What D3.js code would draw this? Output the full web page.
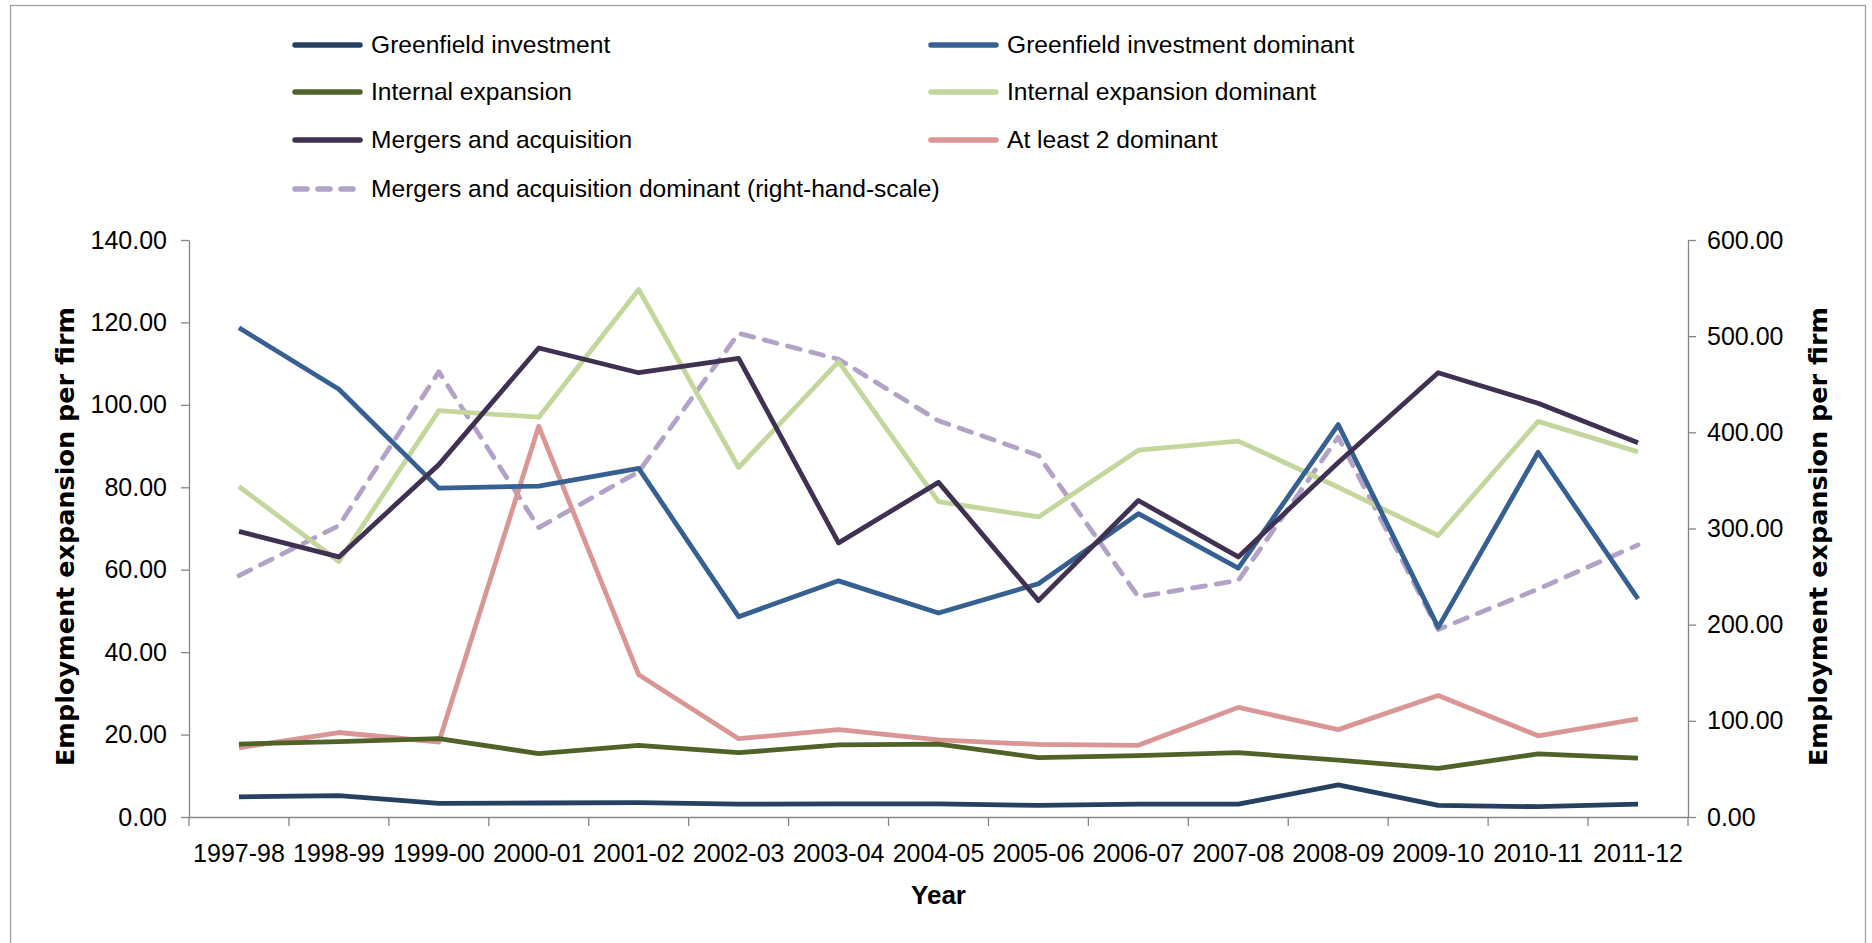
<!DOCTYPE html>
<html>
<head>
<meta charset="utf-8">
<script src="https://cdn.jsdelivr.net/npm/d3@7/dist/d3.min.js"></script>
<style>
  body { margin: 0; background: #fff; }
  svg { display: block; }
  .tick text { font-family: "Liberation Sans", Arial, sans-serif; font-size: 25px; fill: #000; }
  .axis path, .axis line { stroke: #868686; stroke-width: 1.3; }
</style>
</head>
<body>
<div id="chart"></div>
<script>
// categories (financial years)
const years = ["1997-98", "1998-99", "1999-00", "2000-01", "2001-02", "2002-03", "2003-04",
  "2004-05", "2005-06", "2006-07", "2007-08", "2008-09", "2009-10", "2010-11", "2011-12"];

// left-hand scale series
const greenfield = [4.9, 5.2, 3.3, 3.4, 3.5, 3.1, 3.2, 3.2, 2.8, 3.1, 3.1, 7.8, 2.8, 2.5, 3.1];
const greenfieldDom = [118.7, 103.8, 79.8, 80.3, 84.6, 48.6, 57.3, 49.5, 56.6, 73.6, 60.4, 95.2, 46.0, 88.5, 52.9];
const internal = [17.7, 18.3, 19.0, 15.4, 17.4, 15.6, 17.5, 17.7, 14.4, 14.9, 15.6, 13.8, 11.8, 15.3, 14.3];
const internalDom = [80.2, 62.0, 98.6, 97.0, 128.0, 84.8, 110.5, 76.5, 72.8, 89.0, 91.2, 80.0, 68.3, 96.0, 88.6];
const mergers = [69.3, 63.1, 85.5, 113.8, 107.8, 111.3, 66.5, 81.2, 52.5, 76.8, 63.1, 86.0, 107.8, 100.4, 90.8];
const atLeast2 = [16.8, 20.5, 18.2, 94.8, 34.5, 19.0, 21.2, 18.7, 17.6, 17.4, 26.6, 21.2, 29.5, 19.7, 23.8];
// right-hand scale series
const mergersDom = [251, 303, 463, 301, 359, 503, 476, 412, 376, 229, 246, 395, 195, 237, 283];

const leftTicks = [0, 20, 40, 60, 80, 100, 120, 140];
const rightTicks = [0, 100, 200, 300, 400, 500, 600];

const series = [
  {name: "Greenfield investment", values: greenfield, color: "#254061", axis: "left"},
  {name: "Greenfield investment dominant", values: greenfieldDom, color: "#376092", axis: "left"},
  {name: "Internal expansion", values: internal, color: "#4f6228", axis: "left"},
  {name: "Internal expansion dominant", values: internalDom, color: "#c3d69b", axis: "left"},
  {name: "Mergers and acquisition", values: mergers, color: "#403152", axis: "left"},
  {name: "At least 2 dominant", values: atLeast2, color: "#d99694", axis: "left"},
  {name: "Mergers and acquisition dominant (right-hand-scale)", values: mergersDom, color: "#b3a2c7", axis: "right", dash: "13 11"}
];
// draw order: back to front
const drawOrder = [6, 5, 3, 2, 0, 1, 4];

const totalW = 1872, totalH = 943;
const margin = {top: 240, right: 184, bottom: 126, left: 189};
const W = totalW - margin.left - margin.right;
const H = totalH - margin.top - margin.bottom;

const svg = d3.select("#chart").append("svg")
  .attr("width", totalW)
  .attr("height", totalH);

// outer chart border
svg.append("rect")
  .attr("x", 10.5).attr("y", 5.5)
  .attr("width", 1855).attr("height", 960)
  .attr("fill", "none")
  .attr("stroke", "#a0a0a0")
  .attr("stroke-width", 1.3);

const g = svg.append("g")
  .attr("transform", "translate(" + margin.left + " " + margin.top + ")");

const x = d3.scaleBand().domain(years).range([0, W]).padding(0);
const xc = d => x(d) + x.bandwidth() / 2;
const yL = d3.scaleLinear().domain([0, 140]).range([H, 0]);
const yR = d3.scaleLinear().domain([0, 600]).range([H, 0]);

// left axis
g.append("g").classed("axis", true)
  .call(d3.axisLeft(yL).tickValues(leftTicks).tickFormat(d3.format(".2f")).tickSize(8).tickSizeOuter(0).tickPadding(14));

// right axis
g.append("g").classed("axis", true)
  .attr("transform", "translate(" + W + " 0)")
  .call(d3.axisRight(yR).tickValues(rightTicks).tickFormat(d3.format(".2f")).tickSize(8).tickSizeOuter(0).tickPadding(11));

// bottom axis: labels at category centres, tick marks at boundaries
const xaxis = g.append("g").classed("axis", true)
  .attr("transform", "translate(0 " + H + ")")
  .call(d3.axisBottom(x).tickSize(0).tickSizeOuter(0).tickPadding(27));
xaxis.selectAll(".tick line").remove();
const bounds = years.map(d => x(d)).concat([W]);
xaxis.selectAll(".bound")
  .data(bounds)
  .enter().append("line")
  .attr("class", "bound")
  .attr("x1", d => d).attr("x2", d => d)
  .attr("y1", 0).attr("y2", 9);

// lines
const lineL = d3.line().x((d, i) => xc(years[i])).y(d => yL(d));
const lineR = d3.line().x((d, i) => xc(years[i])).y(d => yR(d));

drawOrder.forEach(k => {
  const s = series[k];
  g.append("path")
    .datum(s.values)
    .attr("d", s.axis === "left" ? lineL : lineR)
    .attr("fill", "none")
    .attr("stroke", s.color)
    .attr("stroke-width", 4.8)
    .attr("stroke-linejoin", "round")
    .attr("stroke-linecap", s.dash ? "round" : "butt")
    .attr("stroke-dasharray", s.dash || null);
});

// axis titles
const titleFont = "'DejaVu Sans', Verdana, sans-serif";
svg.append("text")
  .attr("transform", "translate(74 " + (margin.top + H / 2 + 8) + ") rotate(-90)")
  .attr("text-anchor", "middle")
  .attr("font-family", titleFont)
  .attr("font-weight", "bold")
  .attr("font-size", 25.5)
  .text("Employment expansion per firm");

svg.append("text")
  .attr("transform", "translate(1827 " + (margin.top + H / 2 + 8) + ") rotate(-90)")
  .attr("text-anchor", "middle")
  .attr("font-family", titleFont)
  .attr("font-weight", "bold")
  .attr("font-size", 25.5)
  .text("Employment expansion per firm");

svg.append("text")
  .attr("x", margin.left + W / 2)
  .attr("y", 904)
  .attr("text-anchor", "middle")
  .attr("font-family", "'Liberation Sans', Arial, sans-serif")
  .attr("font-weight", "bold")
  .attr("font-size", 26)
  .text("Year");

// legend: two columns, filled row by row
const legCols = [292, 928];
const legRows = [45, 92, 140, 189];
const leg = svg.append("g");
series.forEach((s, i) => {
  const cx = legCols[i % 2];
  const cy = legRows[Math.floor(i / 2)];
  leg.append("line")
    .attr("x1", cx + 3).attr("x2", cx + 68)
    .attr("y1", cy).attr("y2", cy)
    .attr("stroke", s.color)
    .attr("stroke-width", 5.5)
    .attr("stroke-linecap", "round")
    .attr("stroke-dasharray", s.dash ? "12 11" : null);
  leg.append("text")
    .attr("x", cx + 79)
    .attr("y", cy + 8)
    .attr("font-family", "'Liberation Sans', Arial, sans-serif")
    .attr("font-size", 24.6)
    .text(s.name);
});
</script>
</body>
</html>
